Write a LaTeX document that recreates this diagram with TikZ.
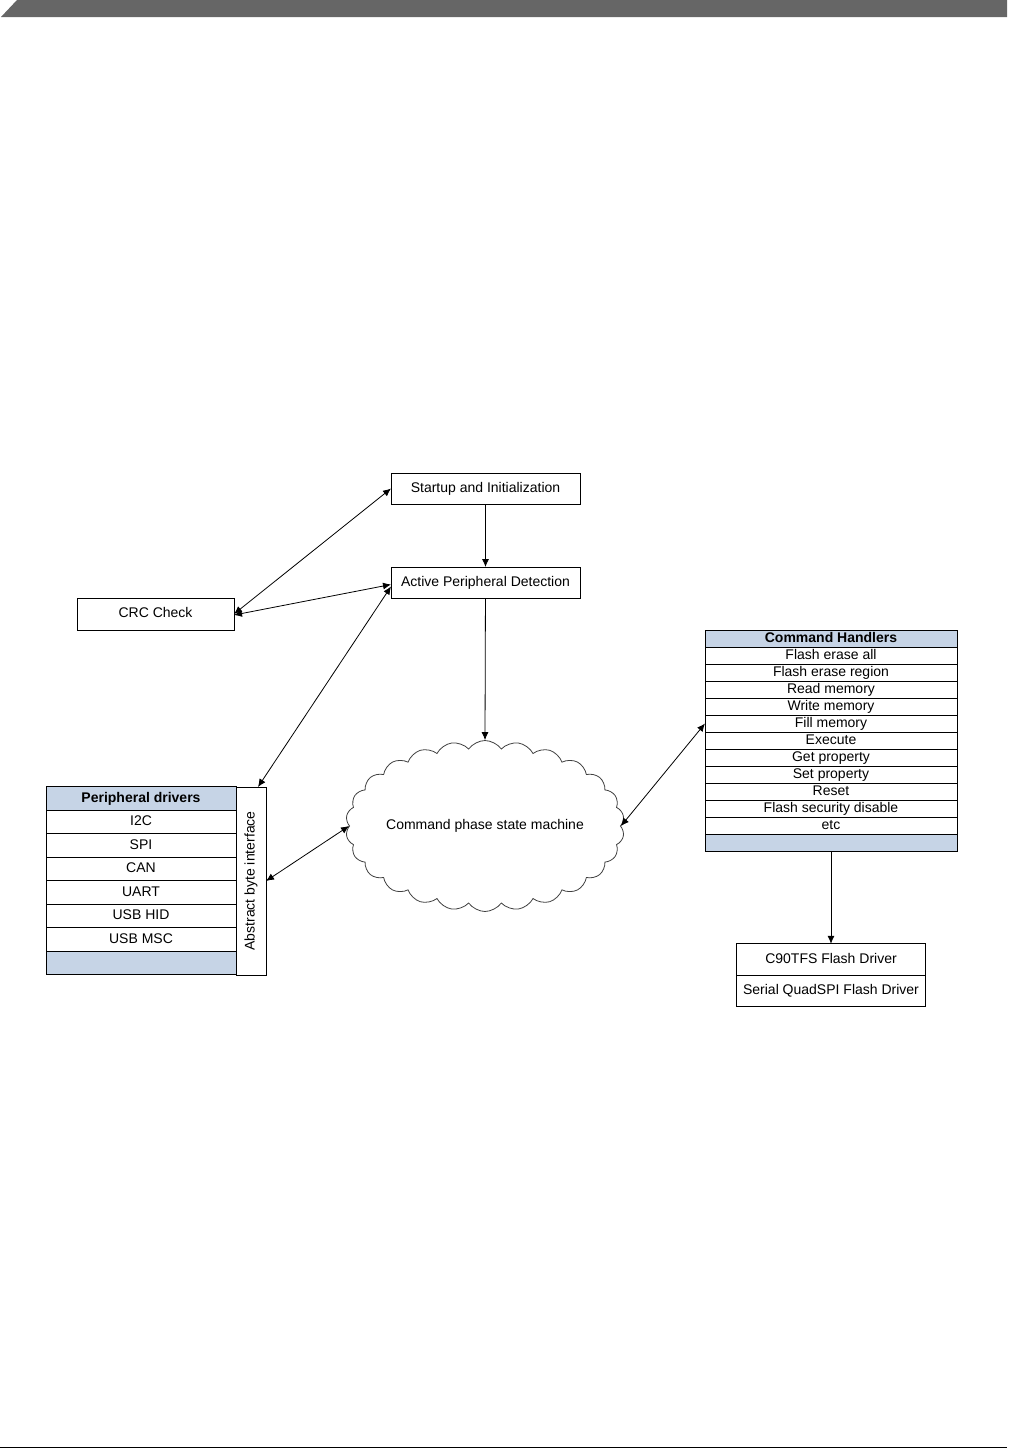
\documentclass[tikz,border=0pt]{standalone}
\usepackage{fontspec}
\setmainfont{Liberation Sans}
\usepackage{graphicx}
\usepackage{xcolor}
\usetikzlibrary{arrows.meta, positioning, shapes.symbols}
\definecolor{hdrblue}{HTML}{C6D4E6}
\definecolor{bargray}{HTML}{666666}

\begin{document}
\begin{tikzpicture}[
  x=1pt, y=-1pt,
  font=\fontsize{14}{16}\selectfont,
  block/.style={draw, rectangle, line width=0.8pt, inner sep=0pt, outer sep=0pt, text height=10pt, text depth=3pt, minimum height=31pt, minimum width=189pt, align=center},
  drvrow/.style={draw, rectangle, line width=0.8pt, inner sep=0pt, outer sep=0pt, text height=10pt, text depth=3pt, minimum height=23.5pt, minimum width=190pt},
  cmdrow/.style={draw, rectangle, line width=0.8pt, inner sep=0pt, outer sep=0pt, text height=10pt, text depth=3pt, minimum height=17pt, minimum width=252pt},
  header/.style={fill=hdrblue, font=\fontsize{14}{16}\selectfont\bfseries},
  statecloud/.style={draw, cloud, cloud ignores aspect, cloud puffs=26, cloud puff arc=110, inner sep=0pt, line width=0.8pt, draw=black!75, minimum width=236pt, minimum height=171pt},
  arrow/.style={-{Latex[length=8pt, width=7pt]}, line width=0.8pt},
  dblarrow/.style={{Latex[length=8pt, width=7pt]}-{Latex[length=8pt, width=7pt]}, line width=0.8pt}
]
\useasboundingbox (0,0) rectangle (1009,1449);

% page decoration
\fill[bargray] (17,0) -- (1007,0) -- (1007,17) -- (1,17) -- cycle;
\draw[line width=1.5pt] (0,1447.5) -- (1007,1447.5);

% boot flow
\node[block] (startup) at (485.5,488.5) {Startup and Initialization};
\node[block] (detect) at (485.5,582.5) {Active Peripheral Detection};
\node[block, minimum width=157pt, minimum height=32pt] (crc) at (155.5,614) {CRC Check};

\draw[arrow] (startup) -- (detect);
\draw[dblarrow] (crc.east) -- (startup.west);
\draw[dblarrow] ([yshift=-1pt]crc.east) -- ([yshift=-2pt]detect.west);

% command phase
\node[statecloud] (cpsm) at (485,826) {Command phase state machine};
\draw[arrow] (detect) -- (cpsm.north);

% peripheral drivers
\node[drvrow, header] (drv) at (141,798.5) {Peripheral drivers};
\node[drvrow, below=0pt of drv] (i2c) {I2C};
\node[drvrow, below=0pt of i2c] (spi) {SPI};
\node[drvrow, below=0pt of spi] (can) {CAN};
\node[drvrow, below=0pt of can] (uart) {UART};
\node[drvrow, below=0pt of uart] (usbhid) {USB HID};
\node[drvrow, below=0pt of usbhid] (usbmsc) {USB MSC};
\node[drvrow, header, below=0pt of usbmsc] (drvend) {};
\node[draw, line width=0.8pt, inner sep=0pt, outer sep=0pt, minimum width=30pt, minimum height=188pt] (abi) at (251,881) {\rotatebox{90}{Abstract byte interface}};

\draw[dblarrow] ([yshift=-4pt]detect.west) -- ([xshift=7pt]abi.north);
\draw[dblarrow] (abi.east) -- (cpsm.west);

% command handlers
\node[cmdrow, header] (cmd) at (831,638.5) {Command Handlers};
\foreach \txt [count=\i, remember=\i as \j (initially 0)] in {Flash erase all, Flash erase region, Read memory, Write memory, Fill memory, Execute, Get property, Set property, Reset, Flash security disable, etc}{
  \ifnum\i=1
    \node[cmdrow, below=0pt of cmd] (cmd\i) {\txt};
  \else
    \node[cmdrow, below=0pt of cmd\j] (cmd\i) {\txt};
  \fi
}
\node[cmdrow, header, below=0pt of cmd11] (cmdend) {};

\draw[dblarrow] (cpsm.east) -- (cmd5.west);

% flash drivers
\node[block, minimum height=31.5pt] (c90) at (831,959.5) {C90TFS Flash Driver};
\node[block, minimum height=31.5pt, below=0pt of c90] (qspi) {Serial QuadSPI Flash Driver};

\draw[arrow] (cmdend) -- (c90);

\end{tikzpicture}
\end{document}
